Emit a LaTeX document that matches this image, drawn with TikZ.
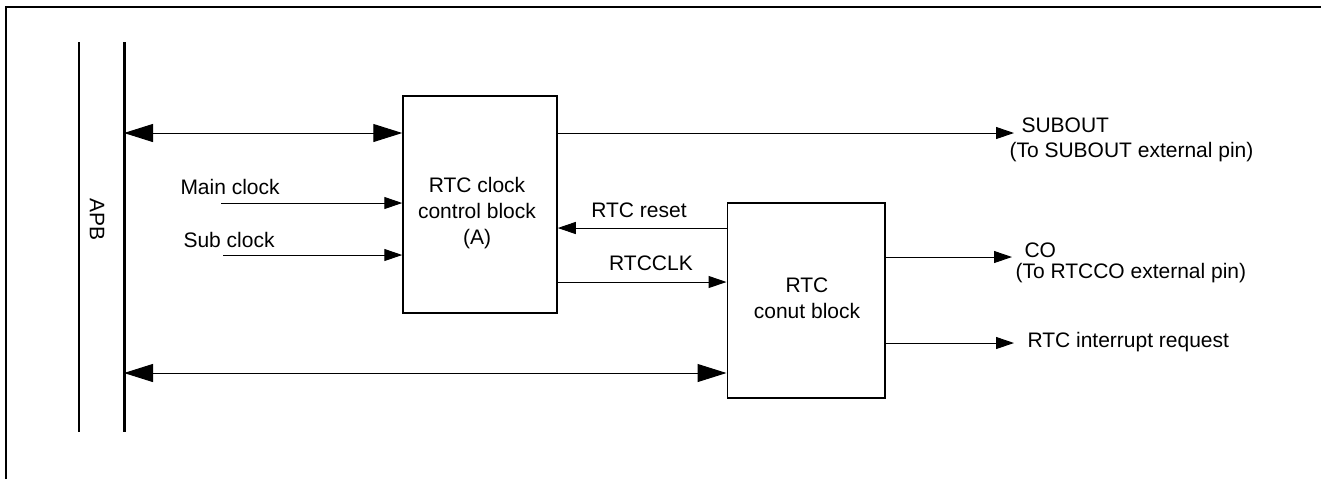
\documentclass[tikz,border=0pt]{standalone}
\usepackage{fontspec}
\setmainfont{Liberation Sans}
\usetikzlibrary{arrows.meta,positioning}

\begin{document}
\begin{tikzpicture}[x=0.5pt, y=-0.5pt, line width=0.5pt,
  font=\fontsize{10.5}{13}\selectfont,
  blockbox/.style={draw, line width=0.75pt, inner sep=0pt},
  txt/.style={inner sep=0pt, align=center},
  sig/.style={-{Triangle[length=9pt, width=6pt]}},
  bus/.style={{Triangle[length=14.5pt, width=9pt]}-{Triangle[length=14.5pt, width=9pt]}}]
  \useasboundingbox (0,0) rectangle (1321,479);
  % frame
  \draw[line width=1pt] (6,479) -- (6,7) -- (1321,7);
  % APB bus
  \coordinate (apbtop) at (124,42);
  \coordinate (apbbot) at (124,432);
  \draw[line width=1pt] (79,42) -- (79,432);
  \draw[line width=1.5pt] (apbtop) -- (apbbot);
  \node[txt, rotate=-90] (apb) at (97,219) {APB};
  % blocks
  \node[blockbox, minimum width=77pt, minimum height=108.5pt] (ctl) at (480,204.5) {};
  \node[txt] (ctltxt) at (477,213) {RTC clock\\control block\\(A)};
  \node[blockbox, minimum width=78.75pt, minimum height=97.5pt] (cnt) at (806,300.5) {};
  \node[txt] (cnttxt) at (807,298) {RTC\\conut block};
  % bus accesses
  \coordinate (busa) at (124,133);
  \coordinate (busb) at (124,373);
  \draw[bus] (busa) -- (busa -| ctl.west);
  \draw[bus] (busb) -- (busb -| cnt.west);
  % clock inputs
  \node[txt, anchor=west] (mainclk) at (180,187) {Main clock};
  \coordinate (mainin) at (221,203);
  \draw[sig] (mainin) -- (mainin -| ctl.west);
  \node[txt, anchor=west] (subclk) at (183,240) {Sub clock};
  \coordinate (subin) at (223,255);
  \draw[sig] (subin) -- (subin -| ctl.west);
  % SUBOUT
  \coordinate (subout) at (1014,133);
  \draw[sig] (subout -| ctl.east) -- (subout);
  \node[txt, anchor=west] (suboutlbl) at (1021,125) {SUBOUT};
  \node[txt, anchor=west] (suboutpin) at (1009,152) {(To SUBOUT external pin)};
  % between the blocks
  \coordinate (rst) at (0,228);
  \draw[sig] (rst -| cnt.west) -- (rst -| ctl.east);
  \node[txt] (rstlbl) at (639,210) {RTC reset};
  \coordinate (clk) at (0,282);
  \draw[sig] (clk -| ctl.east) -- (clk -| cnt.west);
  \node[txt] (clklbl) at (651,263) {RTCCLK};
  % counter outputs
  \coordinate (co) at (1012,257);
  \draw[sig] (co -| cnt.east) -- (co);
  \node[txt, anchor=west] (colbl) at (1024,250) {CO};
  \node[txt, anchor=west] (copin) at (1015,273) {(To RTCCO external pin)};
  \coordinate (irq) at (1014,343);
  \draw[sig] (irq -| cnt.east) -- (irq);
  \node[txt, anchor=west] (irqlbl) at (1027,342) {RTC interrupt request};
\end{tikzpicture}
\end{document}
